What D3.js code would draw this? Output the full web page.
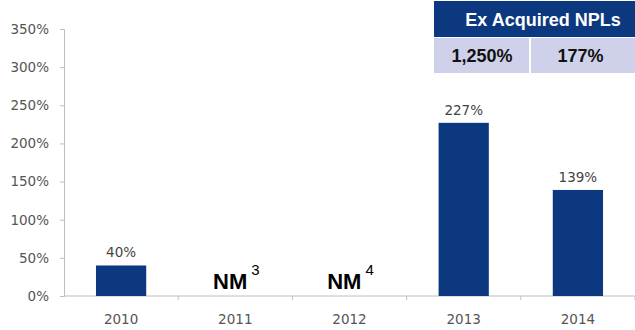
<!DOCTYPE html>
<html>
<head>
<meta charset="utf-8">
<script src="https://cdn.jsdelivr.net/npm/d3@7"></script>
<style>
  body { margin: 0; background: #fff; }
  svg { display: block; }
</style>
</head>
<body>
<div id="chart"></div>
<script>
// chart data
var years = ["2010", "2011", "2012", "2013", "2014"];
var ratios = [40, null, null, 227, 139];
var nmNotes = [null, "3", "4", null, null];
var yTicks = [0, 50, 100, 150, 200, 250, 300, 350];
var tableTitle = "Ex Acquired NPLs";
var tableValues = ["1,250%", "177%"];

var width = 635, height = 330;
var navy = "#0c3880";
var axisColor = "#bfbfbf";
var labelFont = "DejaVu Sans, sans-serif";
var boldFont = "Liberation Sans, Arial, sans-serif";

var svg = d3.select("#chart").append("svg")
    .attr("width", width)
    .attr("height", height);

var x = d3.scaleBand()
    .domain(years)
    .range([64, 635])
    .paddingInner(0.56)
    .paddingOuter(0.28);

var y = d3.scaleLinear()
    .domain([0, 350])
    .range([296, 29]);

// y axis
var yAxis = d3.axisLeft(y)
    .tickValues(yTicks)
    .tickSize(4)
    .tickPadding(11)
    .tickFormat(function(d) { return d + "%"; });

var gy = svg.append("g")
    .attr("transform", "translate(64,0)")
    .call(yAxis);
gy.select(".domain").attr("stroke", axisColor);
gy.selectAll(".tick line").attr("stroke", axisColor);
gy.selectAll(".tick text")
    .style("font-family", labelFont)
    .style("font-size", "13.5px")
    .attr("fill", "#555");

// x axis line with ticks on band boundaries
var step = x.step();
svg.append("line")
    .attr("x1", 64).attr("x2", 635)
    .attr("y1", y(0)).attr("y2", y(0))
    .attr("stroke", axisColor);
years.forEach(function(yr, i) {
    var bx = x.range()[0] + step * (i + 1);
    svg.append("line")
        .attr("x1", bx).attr("x2", bx)
        .attr("y1", y(0)).attr("y2", y(0) + 4)
        .attr("stroke", axisColor);
    svg.append("text")
        .attr("x", x(yr) + x.bandwidth() / 2)
        .attr("y", 324)
        .attr("text-anchor", "middle")
        .style("font-family", labelFont)
        .style("font-size", "13.5px")
        .attr("fill", "#555")
        .text(yr);
});

// bars
years.forEach(function(yr, i) {
    var v = ratios[i];
    var cx = x(yr) + x.bandwidth() / 2;
    if (v !== null) {
        svg.append("rect")
            .attr("x", x(yr))
            .attr("y", y(v))
            .attr("width", x.bandwidth())
            .attr("height", y(0) - y(v))
            .attr("fill", navy);
        svg.append("text")
            .attr("x", cx)
            .attr("y", y(v) - 8)
            .attr("text-anchor", "middle")
            .style("font-family", labelFont)
            .style("font-size", "13.5px")
            .attr("fill", "#444")
            .text(v + "%");
    } else {
        // not meaningful: "NM" with footnote marker
        var t = svg.append("text")
            .attr("x", cx + 1)
            .attr("y", 289)
            .attr("text-anchor", "middle")
            .style("font-family", boldFont)
            .style("font-weight", "bold")
            .style("font-size", "22px")
            .attr("fill", "#000");
        t.append("tspan").text("NM");
        t.append("tspan")
            .attr("dx", 4)
            .attr("dy", -14)
            .style("font-weight", "normal")
            .style("font-size", "15px")
            .text(nmNotes[i]);
    }
});

// Ex Acquired NPLs table
var tx0 = 434, tx1 = 530, tx2 = 635;
svg.append("rect")
    .attr("x", tx0).attr("y", 1)
    .attr("width", tx2 - tx0).attr("height", 36)
    .attr("fill", navy);
svg.append("text")
    .attr("x", 543)
    .attr("y", 26)
    .attr("text-anchor", "middle")
    .style("font-family", boldFont)
    .style("font-weight", "bold")
    .style("font-size", "18px")
    .attr("fill", "#fff")
    .text(tableTitle);

var cells = [[tx0, tx1], [tx1, tx2]];
cells.forEach(function(c, i) {
    svg.append("rect")
        .attr("x", c[0] + (i ? 1 : 0)).attr("y", 38)
        .attr("width", c[1] - c[0] - 1).attr("height", 35)
        .attr("fill", "#cfd1ea");
    svg.append("text")
        .attr("x", (c[0] + c[1]) / 2 + (i ? -2 : 0))
        .attr("y", 62)
        .attr("text-anchor", "middle")
        .style("font-family", boldFont)
        .style("font-weight", "bold")
        .style("font-size", "18px")
        .attr("fill", "#111")
        .text(tableValues[i]);
});
</script>
</body>
</html>
